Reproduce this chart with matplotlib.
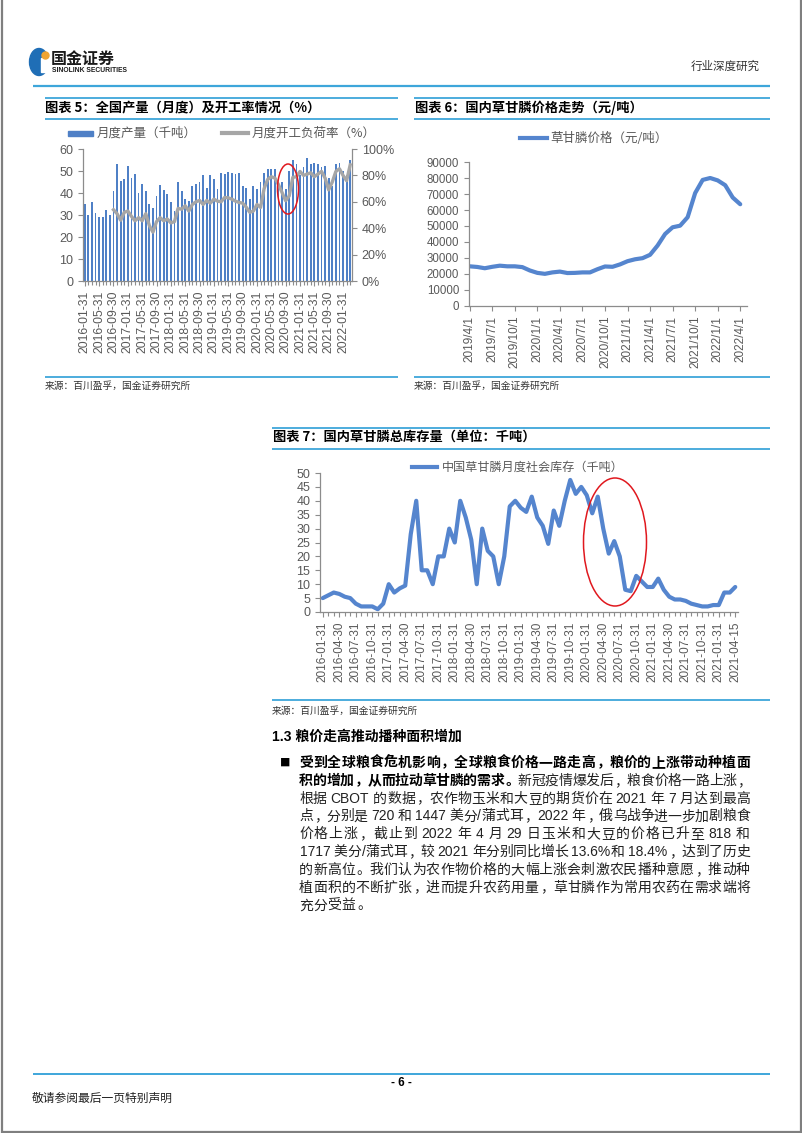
import re
import numpy as np
import matplotlib
matplotlib.use('Agg')
import matplotlib.pyplot as plt
from matplotlib.lines import Line2D
from matplotlib.patches import Rectangle, Ellipse

W, H, DPI = 802, 1133, 100
CJK = ['Noto Sans CJK SC', 'DejaVu Sans']
LAT = ['Liberation Sans', 'Noto Sans CJK SC', 'DejaVu Sans']
BLUE_RULE = '#3EA6DA'
GRAY_TXT = '#595959'
AX_GRAY = '#8C8C8C'

# ---------------- data: chart 5 ----------------
prod_monthly = [35, 30, 36, 31, 29, 29, 32.5, 30, 41, 53, 45.5, 46.5, 52.5, 47, 48.5,
                40, 44, 41, 35, 33, 38.5, 43.5, 41.5, 39.5, 36, 32, 45, 41, 37.5,
                36.5, 43, 44, 45, 48, 42.5, 48, 46.5, 42, 49, 48.5, 49.5, 49, 48.5,
                49, 43, 42.5, 37.5, 43, 42, 45, 49, 51, 51, 51, 43, 45, 42, 50, 55,
                53, 48, 52, 56, 53, 53.5, 53, 52, 52.5, 47, 43, 53, 53.5, 50, 48, 55]
load_rate = [54, 51, 46, 52, 53, 49, 45.6, 48, 45.6, 51, 42, 37, 45, 48, 45.6, 47,
             44, 45, 55, 54.4, 57, 53, 58, 60, 61, 58, 61, 59, 62, 60.5, 60, 63.3,
             63, 62, 60.5, 59.5, 59, 56, 52, 53, 58, 55.7, 70, 77, 79, 78, 73, 67,
             60.8, 64.5, 78.5, 79, 83, 80, 81, 82, 79, 81, 83, 78, 69, 75, 83, 85,
             80, 76, 88]
rate_start = 8
c5_xlabels = ['2016-01-31', '2016-05-31', '2016-09-30', '2017-01-31', '2017-05-31',
              '2017-09-30', '2018-01-31', '2018-05-31', '2018-09-30', '2019-01-31',
              '2019-05-31', '2019-09-30', '2020-01-31', '2020-05-31', '2020-09-30',
              '2021-01-31', '2021-05-31', '2021-09-30', '2022-01-31']
c5_label_step = 4

# ---------------- data: chart 6 ----------------
price = [24800, 24400, 23600, 24500, 25200, 24800, 24800, 24300, 22200, 20700,
         20100, 21000, 21500, 20600, 20700, 21000, 21000, 23000, 24700, 24500,
         26000, 28000, 29200, 29900, 32000, 37800, 45000, 49200, 50200, 55500,
         70600, 78800, 80000, 78500, 75500, 67800, 63600]
c6_xlabels = ['2019/4/1', '2019/7/1', '2019/10/1', '2020/1/1', '2020/4/1', '2020/7/1',
              '2020/10/1', '2021/1/1', '2021/4/1', '2021/7/1', '2021/10/1',
              '2022/1/1', '2022/4/1']
c6_label_step = 3

# ---------------- data: chart 7 ----------------
stock = [5, 6, 7, 6.5, 5.5, 5, 3, 2, 2, 2, 1, 3, 10, 7, 8.5, 9.5, 28, 40, 15, 15,
         10, 20, 20, 30, 25, 40, 34, 26, 10, 30, 22, 20, 10, 20, 38, 40, 37.5, 36,
         41.5, 34, 31, 24.5, 36.5, 31, 40, 47.5, 42.5, 45, 42, 35.5, 41.5, 30, 21,
         25.5, 20, 8, 7.5, 13, 11, 9, 9, 12, 8, 5.5, 4.5, 4.5, 4, 3, 2.5, 2, 2,
         2.5, 2.5, 7, 7, 9]
c7_xlabels = ['2016-01-31', '2016-04-30', '2016-07-31', '2016-10-31', '2017-01-31',
              '2017-04-30', '2017-07-31', '2017-10-31', '2018-01-31', '2018-04-30',
              '2018-07-31', '2018-10-31', '2019-01-31', '2019-04-30', '2019-07-31',
              '2019-10-31', '2020-01-31', '2020-04-30', '2020-07-31', '2020-10-31',
              '2021-01-31', '2021-04-30', '2021-07-31', '2021-10-31', '2021-01-31',
              '2021-04-15']
c7_label_step = 3

# ---------------- texts ----------------
para_lines = [
    [("受到全球粮食危机影响，全球粮食价格一路走高，粮价的上涨带动种植面", 'bold')],
    [("积的增加，从而拉动草甘膦的需求。", 'bold'), ("新冠疫情爆发后，粮食价格一路上涨，", 'normal')],
    [("根据 CBOT 的数据，农作物玉米和大豆的期货价在 2021 年 7 月达到最高", 'normal')],
    [("点，分别是 720 和 1447 美分/蒲式耳，2022 年，俄乌战争进一步加剧粮食", 'normal')],
    [("价格上涨，截止到 2022 年 4 月 29 日玉米和大豆的价格已升至 818 和", 'normal')],
    [("1717 美分/蒲式耳，较 2021 年分别同比增长 13.6%和 18.4%，达到了历史", 'normal')],
    [("的新高位。我们认为农作物价格的大幅上涨会刺激农民播种意愿，推动种", 'normal')],
    [("植面积的不断扩张，进而提升农药用量，草甘膦作为常用农药在需求端将", 'normal')],
    [("充分受益。", 'normal')],
]

fig = plt.figure(figsize=(W / DPI, H / DPI), dpi=DPI)
fig.patch.set_facecolor('white')


def fx(px):
    return px / W


def fy(py):
    return 1 - py / H


def hline(x0, x1, y, color=BLUE_RULE, lw=1.3):
    fig.add_artist(Line2D([fx(x0), fx(x1)], [fy(y), fy(y)], color=color, lw=lw,
                          solid_capstyle='butt'))


def vline(x, y0, y1, color, lw):
    fig.add_artist(Line2D([fx(x), fx(x)], [fy(y0), fy(y1)], color=color, lw=lw))


# page border
vline(1.5, 0, 1131.5, '#7F7F7F', 1.6)
vline(800.5, 0, 1131.5, '#7F7F7F', 1.6)
hline(1.5, 800.5, 1131.5, '#7F7F7F', 1.6)

# header / logo
fig.add_artist(Ellipse((fx(39), fy(62)), 19 / W, 27 / H, color='#1F6EB6'))
fig.add_artist(Rectangle((fx(40.5), fy(72)), 8.5 / W, 14 / H, color='white'))
fig.add_artist(Ellipse((fx(45.5), fy(55.5)), 7 / W, 7 / H, color='#F0A431'))
fig.text(fx(51), fy(59), "国金证券", fontsize=11.5, weight='bold', family=CJK,
         color='#1A1A1A', va='center', ha='left')
fig.text(fx(51.5), fy(71), "SINOLINK SECURITIES", fontsize=4.9, weight='bold',
         family=LAT, color='#1A1A1A', va='center', ha='left')
fig.text(fx(760), fy(66), "行业深度研究", fontsize=8.3, family=CJK, color='#333333',
         va='center', ha='right')
hline(33, 770, 86, BLUE_RULE, 1.6)

# chart titles & rules
for x0, x1 in [(45, 398), (414, 770)]:
    hline(x0, x1, 97.5)
    hline(x0, x1, 118.5)
    hline(x0, x1, 377)
fig.text(fx(45), fy(107.5), "图表 5：全国产量（月度）及开工率情况（%）", fontsize=9.5,
         weight='bold', family=CJK, va='center', ha='left')
fig.text(fx(415), fy(107.5), "图表 6：国内草甘膦价格走势（元/吨）", fontsize=9.5,
         weight='bold', family=CJK, va='center', ha='left')
for xx in (45, 414):
    fig.text(fx(xx), fy(386), "来源：百川盈孚，国金证券研究所", fontsize=7, family=CJK,
             color='#333333', va='center', ha='left')

hline(272, 770, 427.5)
hline(272, 770, 449)
hline(272, 770, 700)
fig.text(fx(273), fy(437), "图表 7：国内草甘膦总库存量（单位：千吨）", fontsize=9.5,
         weight='bold', family=CJK, va='center', ha='left')
fig.text(fx(272), fy(711), "来源：百川盈孚，国金证券研究所", fontsize=7, family=CJK,
         color='#333333', va='center', ha='left')


def style_ax(ax, spines=('left', 'bottom')):
    for s in ['left', 'right', 'top', 'bottom']:
        ax.spines[s].set_visible(s in spines)
        ax.spines[s].set_color(AX_GRAY)
        ax.spines[s].set_linewidth(0.9)
    ax.set_facecolor('none')
    ax.tick_params(which='both', colors=AX_GRAY, width=0.8, direction='out')
    ax.tick_params(which='major', length=3.5, labelcolor=GRAY_TXT)
    ax.tick_params(which='minor', length=3)


# ---------------- chart 5 ----------------
ax5 = fig.add_axes([fx(83), fy(281), (352 - 83) / W, (281 - 149) / H])
x5 = np.arange(len(prod_monthly))
ax5.bar(x5, prod_monthly, width=0.5, color='#4F80C6', zorder=2)
ax5.set_xlim(-0.5, len(prod_monthly) - 0.5)
ax5.set_ylim(0, 60)
ax5.set_yticks(np.arange(0, 61, 10))
style_ax(ax5, ('left', 'bottom'))
ax5.set_xticks(x5[::c5_label_step])
ax5.set_xticklabels(c5_xlabels, rotation=90, fontsize=8.8, family=LAT)
ax5.set_xticks(x5, minor=True)
for lab in ax5.get_yticklabels():
    lab.set_fontsize(9)
    lab.set_family(LAT)

ax5b = ax5.twinx()
ax5b.plot(np.arange(rate_start, rate_start + len(load_rate)), load_rate,
          color='#A6A6A6', lw=2.4, solid_joinstyle='round', zorder=3)
ax5b.set_ylim(0, 100)
ax5b.set_yticks(np.arange(0, 101, 20))
ax5b.set_yticklabels([f"{v}%" for v in range(0, 101, 20)], fontsize=9, family=LAT)
style_ax(ax5b, ('right',))
ax5b.spines['right'].set_visible(True)

# legend chart 5
fig.add_artist(Rectangle((fx(68), fy(135.5)), 25 / W, 5 / H, color='#4F80C6'))
fig.text(fx(97), fy(133), "月度产量（千吨）", fontsize=9, family=CJK, color=GRAY_TXT,
         va='center', ha='left')
fig.add_artist(Line2D([fx(222), fx(248)], [fy(133), fy(133)], color='#A6A6A6', lw=3))
fig.text(fx(252), fy(133), "月度开工负荷率（%）", fontsize=9, family=CJK, color=GRAY_TXT,
         va='center', ha='left')
fig.add_artist(Ellipse((fx(288), fy(189)), 21 / W, 50 / H, fill=False,
                       edgecolor='#E0181E', lw=1.1))

# ---------------- chart 6 ----------------
ax6 = fig.add_axes([fx(469), fy(306), (747 - 469) / W, (306 - 162) / H])
x6 = np.arange(len(price))
ax6.plot(x6, price, color='#5585CE', lw=3.0, solid_joinstyle='round',
         solid_capstyle='round')
ax6.set_xlim(-0.1, len(price) - 0.1)
ax6.set_ylim(0, 90000)
ax6.set_yticks(np.arange(0, 90001, 10000))
style_ax(ax6)
ax6.set_xticks(x6[::c6_label_step])
ax6.set_xticklabels(c6_xlabels, rotation=90, fontsize=8.5, family=LAT)
for lab in ax6.get_yticklabels():
    lab.set_fontsize(8.3)
    lab.set_family(LAT)
fig.add_artist(Line2D([fx(520), fx(547)], [fy(138), fy(138)], color='#5585CE', lw=3))
fig.text(fx(550), fy(138), "草甘膦价格（元/吨）", fontsize=9, family=CJK, color=GRAY_TXT,
         va='center', ha='left')

# ---------------- chart 7 ----------------
ax7 = fig.add_axes([fx(320), fy(612), (738 - 320) / W, (612 - 473) / H])
x7 = np.arange(len(stock))
ax7.plot(x7, stock, color='#5585CE', lw=3.0, solid_joinstyle='round',
         solid_capstyle='round')
ax7.set_xlim(-0.5, len(stock) - 0.5)
ax7.set_ylim(0, 50)
ax7.set_yticks(np.arange(0, 51, 5))
style_ax(ax7)
pos7 = list(x7[::c7_label_step][:len(c7_xlabels) - 1]) + [x7[-1]]
ax7.set_xticks(pos7)
ax7.set_xticklabels(c7_xlabels, rotation=90, fontsize=8.5, family=LAT)
ax7.set_xticks(x7, minor=True)
for lab in ax7.get_yticklabels():
    lab.set_fontsize(9)
    lab.set_family(LAT)
fig.add_artist(Line2D([fx(412), fx(437)], [fy(467), fy(467)], color='#5585CE', lw=3))
fig.text(fx(442), fy(467), "中国草甘膦月度社会库存（千吨）", fontsize=8.7, family=CJK,
         color=GRAY_TXT, va='center', ha='left')
fig.add_artist(Ellipse((fx(615), fy(542)), 63 / W, 128 / H, fill=False,
                       edgecolor='#E0181E', lw=1.1))

# ---------------- section text ----------------
fig.text(fx(272), fy(740.5), "1.3 粮价走高推动播种面积增加", fontsize=10, weight='bold',
         family=LAT, va='baseline', ha='left')
fig.text(fx(280), fy(766), "■", fontsize=7.5, family=CJK, va='baseline', ha='left')

renderer = fig.canvas.get_renderer()
FS = 10
EMPX = FS * DPI / 72.0
PUNCT = '，。、：；'


def para_line(y_base, segs, x0, x1, justify, space_px=3.0):
    items = []
    for text, weight in segs:
        color = '#000000' if weight == 'bold' else '#222222'
        for tok in re.findall(r'[A-Za-z0-9.%/]+|\s|.', text):
            if tok.isspace():
                items.append(None)
                continue
            if len(tok) == 1 and ord(tok) >= 0x2E80:
                t = fig.text(0, fy(y_base), tok, fontsize=FS, family=CJK, weight=weight,
                             color=color, va='baseline',
                             ha='left' if tok in PUNCT else 'center')
                w = EMPX
                items.append((t, w, tok, True))
            else:
                t = fig.text(0, fy(y_base), tok, fontsize=FS, family=LAT, weight=weight,
                             color=color, va='baseline', ha='left')
                w = t.get_window_extent(renderer).width + 1.2
                items.append((t, w, tok, False))
    toks = [it for it in items if it is not None]
    nsp = sum(1 for it in items if it is None)
    total = sum(it[1] for it in toks) + nsp * space_px
    extra = (x1 - x0 - total) / max(len(toks) - 1, 1) if justify else 0.4
    x = x0
    for it in items:
        if it is None:
            x += space_px
            continue
        t, w, tok, cj = it
        if cj and tok not in PUNCT:
            t.set_position((fx(x + w / 2), fy(y_base)))
        elif cj:
            t.set_position((fx(x + 0.08 * w), fy(y_base)))
        else:
            t.set_position((fx(x + 0.6), fy(y_base)))
        x += w + extra


y0 = 767
step = 17.8
for i, segs in enumerate(para_lines):
    para_line(y0 + i * step, segs, 299, 750, justify=(i < len(para_lines) - 1))

# footer
hline(33, 770, 1074, BLUE_RULE, 1.4)
fig.text(fx(401), fy(1083.5), "- 6 -", fontsize=8.5, weight='bold', family=LAT,
         va='center', ha='center')
fig.text(fx(32), fy(1098), "敬请参阅最后一页特别声明", fontsize=8.5, family=CJK,
         color='#222222', va='center', ha='left')

fig.savefig('out.png', dpi=DPI, facecolor='white')
